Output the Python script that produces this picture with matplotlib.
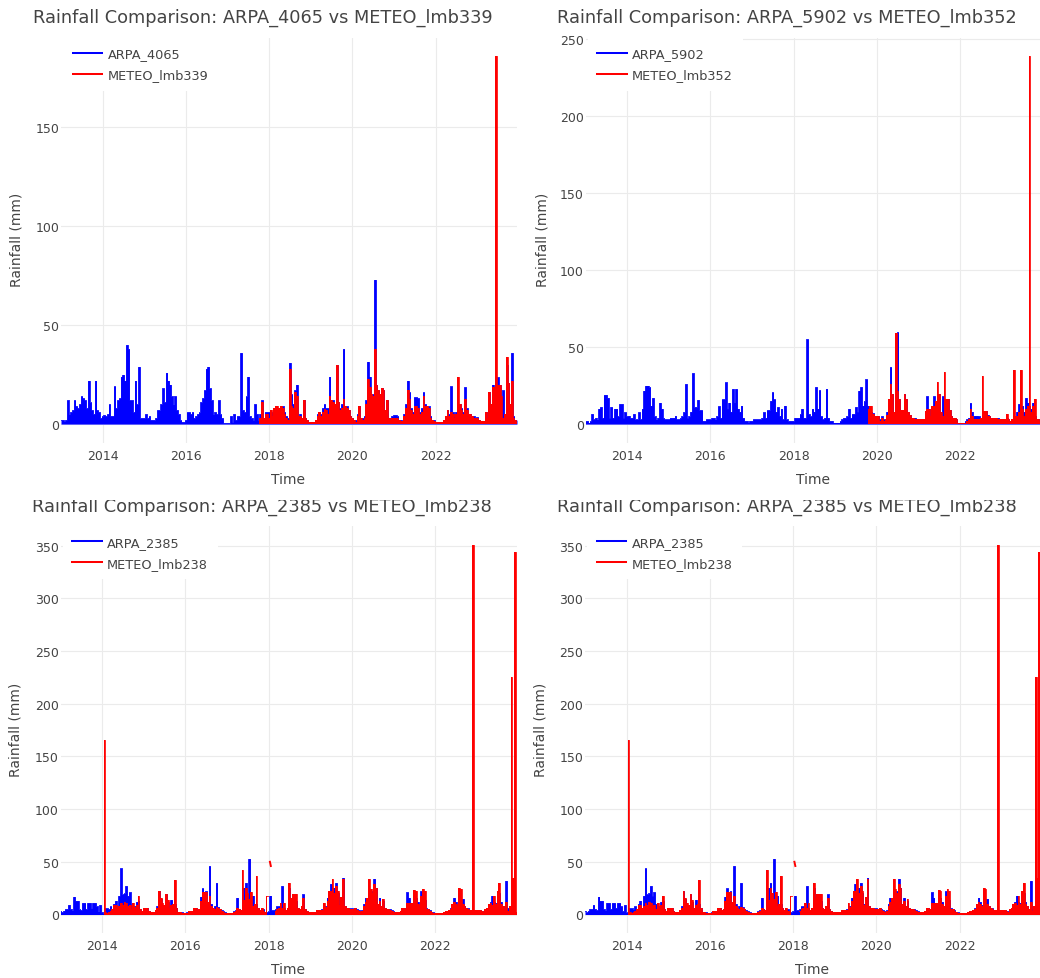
import numpy as np
import pandas as pd
import matplotlib
matplotlib.use("Agg")
import matplotlib.pyplot as plt
import matplotlib.dates as mdates
from matplotlib.ticker import MultipleLocator
from matplotlib.patches import Rectangle

nan = np.nan

# semi-monthly peak rainfall [mm]; ARPA stations start 2013-01-01
ARPA_START = "2013-01-01"

arpa_4065 = [
    2, 2, 1.5, 2, 12, 5, 6, 7, 12, 9, 8, 10, 14, 13, 12, 8, 22, 11, 7, 5, 22, 7, 6, 3,
    4, 4.5, 4, 5, 10, 4, 4, 19, 8, 12, 13, 24, 25, 22, 40, 38, 12, 12, 6, 22, 10, 29, 3, 3,
    3, 5, 3, 4, 2, 2, 2, 3, 7, 7, 10, 18, 11, 26, 22, 20, 14, 10, 14, 7, 5, 2, 1, 1,
    2, 6, 6, 5, 6, 3, 4, 5, 6, 11, 13, 17, 28, 29, 18, 12, 5, 6, 5, 12, 5, 3, 0.5, 0.5,
    0.5, 0.5, 4, 1, 5, 2, 4, 4, 36, 7, 6, 14, 24, 4, 3, 2, 10, 5, 2, 5, 12, 2, 6, 6,
    6, 1, 6, 6, 9, 5, 8, 9, 9, 6, 4, 3, 31, 15, 10, 17, 20, 4, 5, 3, 12, 3, 2, 1,
    1, 1, 1, 2, 5, 6, 5, 8, 10, 8, 8, 24, 12, 12, 10, 30, 11, 8, 10, 38, 9, 9, 7, 4,
    3, 2, 2, 5, 9, 3, 3, 4, 12, 31.6, 24, 15, 15, 73, 20, 17, 15, 18, 17, 7, 12, 3, 2, 4,
    4.5, 4.5, 4, 2, 2, 1.7, 5, 10, 22, 16, 8, 6, 13.5, 13.5, 13, 6, 8, 16, 10, 9, 9, 4, 2, 2,
    1, 1, 1, 1, 1, 2, 4, 7, 5, 19, 6, 4, 6, 8, 10, 8, 6, 18.6, 8, 5, 5, 4, 4, 3,
    3.4, 2, 1.7, 1.7, 1.7, 6, 3, 16, 10, 20, 18.6, 20, 23.6, 20, 14, 17, 5, 30, 21, 10, 36, 4, 2, 2,
]

meteo_lmb339_start = "2017-10-01"
meteo_lmb339 = [
    1, 3, 11, 3, 5, 5,
    3, 7, 4, 8, 9, 9, 8, 9, 8, 5, 3, 2, 28, 9, 8, 16, 14, 4, 4, 3, 12, 3, 2, 1,
    1, 1, 1, 2, 4, 6, 4, 6, 7.6, 7, 5, 14, 12, 11, 10, 30, 11, 7, 8, 12.7, 9, 8, 7, 4,
    3, 2, 1, 4, 9, 3, 2, 3, 10, 23, 18.6, 15, 14, 38, 20, 17, 15, 18, 17, 7, 12, 3, 2, 3,
    3, 3, 3, 2, 1.7, 1.5, 4, 8, 17, 12.7, 7, 5, 9, 9, 8, 5, 6, 14, 9, 9, 8, 3, 2, 1.5,
    1, 1, 1, 1, 1, 2, 4, 7, 4, 6, 5, 3, 5, 24, 10, 7, 5, 12.7, 7, 5, 5, 4, 3, 3,
    3, 2, 1.5, 1.5, 1.5, 6, 3, 16, 10, 18.6, 18.6, 186, 20, 20, 14, 3, 5, 34, 21, 10, 22, 3, 2, 1,
]

arpa_5902 = [
    2, 2, 1, 2, 6.5, 3, 4, 3, 10, 11, 4, 19, 19, 17, 4, 11, 4, 10, 10, 5, 13, 13, 4, 7.6,
    5, 5.4, 4, 4, 6.5, 3, 3, 7.6, 3, 10, 21.7, 25, 25, 24, 12, 17, 5, 3, 4, 14, 10, 4, 3, 3,
    3, 4, 4, 4, 5.4, 3, 3, 4, 5, 7.6, 26, 4, 5, 8, 33, 11, 11, 15.7, 9, 9, 2, 2, 3, 3,
    3, 4, 4, 3, 5, 11.5, 4, 16, 16, 27, 10, 14, 8, 22.8, 14, 22.8, 10, 8, 12, 4, 2, 2, 1, 2,
    2, 3, 3, 3, 3, 3, 4, 7.6, 4, 9, 9, 15, 20.6, 16, 8, 11, 5.4, 10, 3, 12, 3, 2, 2, 2,
    2, 4, 4, 4, 6.5, 10, 4, 4, 55, 6.5, 5, 10, 8, 24, 10, 22, 5, 3, 4, 23, 4, 2, 2, 1,
    1, 1, 1, 2, 3, 4, 4, 5, 10, 4, 6.5, 6.5, 11, 8, 21.7, 24, 12, 15, 29, 12, 11.5, 8, 7, 5,
    5, 5, 3, 5, 3, 3, 8, 16, 37, 19.5, 8, 14, 59.6, 16, 9, 9, 19.5, 16, 8, 6, 4, 4, 4, 3,
    3, 3, 3, 3, 8.7, 18, 10, 5, 12, 18, 15, 12, 19.5, 8, 18, 12, 16, 16, 9, 5, 4, 4, 3, 1,
    1, 1, 1, 2, 3, 4, 13.7, 8, 5.4, 5.4, 5.4, 5, 4, 6, 5, 8.7, 6, 5, 4, 4, 4, 4, 4, 3,
    3, 3, 3, 4, 3, 2, 3, 5, 5, 8, 13, 8, 12, 8, 17, 14, 12, 10, 14, 5, 3, 3, 2, 2,
]

meteo_lmb352_start = "2019-10-15"
meteo_lmb352 = [
    10, 12, 11.5, 6.5, 5.4,
    5, 5, 2, 4, 2, 3, 6, 16, 26, 19.5, 8, 59, 21.7, 16, 9, 9, 19.5, 16, 8, 6, 4, 4, 3, 3,
    3, 3, 3, 3, 8.7, 10, 10, 5, 12, 12, 15, 27, 19.5, 8, 5, 33.6, 16, 16, 9, 5, 4, 4, 3, 1,
    1, 1, 1, 1, 2, 3, 10, 5, 3, 3, 3, 3, 4, 31, 8.7, 8.7, 5, 5, 4, 4, 4, 4, 3, 3,
    3, 3, 3, 6.5, 3, 2, 3, 35, 5, 5, 8, 35, 10, 5, 10, 12, 239, 8, 12, 16, 3, 3, 2, 2,
]

arpa_2385 = [
    3.5, 2, 3.5, 5, 5, 9, 5, 4, 17, 13, 13, 5, 4, 11, 11, 5, 11, 11, 6, 11, 11, 7.6, 3, 9,
    2, 1, 5.7, 5.7, 5, 7.6, 4, 10, 13, 6, 17.7, 43.7, 19, 20, 27, 17.7, 21, 10, 6, 8, 12, 13, 5, 3,
    6, 6.6, 6.6, 3, 2, 2, 2, 4, 8, 22, 15, 9, 8, 19, 12, 6, 14, 8, 10, 6.6, 2, 2, 2, 1,
    1, 2, 3.5, 3.5, 3.5, 6.6, 6.6, 4, 5, 17, 24.7, 21, 22, 12, 46, 10, 6, 8, 30, 7, 5, 4, 3, 2,
    1.3, 1.3, 1.3, 1.3, 3, 4, 16, 5, 4, 10, 25.6, 30, 20, 53, 12, 18, 8, 10, 6, 4, 3, 5, 2, 2,
    3, 18, 4, 4, 5, 7.6, 7.6, 8, 27, 6, 4, 3, 25, 13, 14, 14, 13, 6, 5, 8, 19, 5, 3, 2,
    2, 2, 2, 2, 4.4, 4.4, 4.4, 5, 7, 8, 16, 20, 29, 22, 25.6, 30, 20, 10, 17, 35, 8, 6, 5.7, 5.7,
    5.7, 5, 6.6, 5, 4, 3, 4, 10, 16, 14, 15, 20, 22, 34, 25.6, 10, 16, 8, 13, 6, 5, 5, 5, 4,
    3, 2, 2, 2, 3, 6.6, 6.6, 5, 21, 16, 10, 11, 10, 16, 12, 8, 22, 16, 14, 6, 5, 4, 2, 2,
    1.3, 1.3, 1.3, 1.3, 1.3, 2, 3.5, 3.5, 4, 6, 8, 16, 12, 9, 11, 13, 15, 8, 6, 5.7, 4.4, 4, 3, 3,
    4.4, 4.4, 4.4, 3.5, 3, 5, 5, 7, 12, 18, 12, 11, 14, 20, 12, 8, 5, 32, 6, 3, 32, 4, 2, 2,
]

# nan = missing readings in the gauge record
meteo_lmb238_start = "2014-01-15"
meteo_lmb238 = [
    166, 2, 1, 2, 3, 5, 9, 9, 6.6, 8, 11, 9, 12, 11, 8, 9, 5, 11, 7, 9, 17.7, 5, 3,
    6, 6.6, 6, 3, 2, 2, 2, 4, 6.6, 22, 16, 11, 9, 19, 14, 6, 9, 10, 32.6, 6.6, 2, 2, 1.5, 1,
    1, 1.5, 3, 3, 3, 6.6, 6, 4, 5, 13, 21, 21, 21, 12, 17.7, 8, 6, 5, 7, 6, 5, 3, 2, 1.5,
    1.3, 1.3, 1.3, 1.3, 2, 3, 6, 5, 4, 42.4, 14, 25.6, 20, 15, 21, 8, 10, 36.7, 6, 4, 6.6, 3, 2, 18,
    nan, nan, nan, nan, 3, 5, 6, 11, 6, 11, 4, 6, 30, 16, 19, 19, 19, 6, 5, 8, 16, 5, 3, 2,
    2, 2, 2, 2, 4, 4, 4, 4, 11, 7, 13, 22, 22, 34, 20, 27, 22, 9, 17, 33.5, 8, 5.7, 5.7, 5,
    5, 5, 6.6, 4, 3, 2, 3, 8, 12, 16, 34, 24, 20, 29, 25.6, 10, 13, 8, 14.5, 6, 5, 5, 4, 3,
    2, 2, 2, 2, 3, 6.6, 6.6, 5, 11, 11, 11, 11, 23.4, 22.5, 10, 8, 17.7, 24, 22.5, 5, 5, 3, 2, 1.5,
    1.3, 1.3, 1.3, 1.3, 1.3, 2, 3, 3.5, 4, 5, 10, 12, 10, 8, 25.6, 24, 10, 8, 5.7, 5, 4, 4, 351, 4,
    4, 4.4, 4, 3.5, 2, 5, 6, 10, 11, 9, 17.7, 10, 22.5, 30, 10, 8, 5, 12, 3, 8, 225, 35, 344, 2,
]
# two readings logged alone inside the early-2018 gap
meteo_lmb238_isolated_dates = ["2018-01-12", "2018-01-20"]
meteo_lmb238_isolated = [50, 46]

W, H = 1040, 979
text_color = "#444444"
grid_kwargs = {"color": "#ebebeb", "lw": 0.8}
arpa_color = "#0000ff"
meteo_color = "#ff0000"


def px_rect(left, top, right, bottom):
    """Pixel box (top-left origin) -> figure fraction rect."""
    return [left / W, 1 - bottom / H, (right - left) / W, (bottom - top) / H]


def draw_series(ax, dates, vals, color, label, z):
    """Rainfall as a filled skyline, one step per half month."""
    vals = np.asarray(vals, dtype=float)
    ax.fill_between(dates, 0, vals, step="mid", color=color, lw=0, zorder=z)
    ax.plot(dates, vals, drawstyle="steps-mid", color=color, lw=0.6,
            label=label, zorder=z)


def plot_panel(fig, box, title_xy, ylab_xy, xlab_xy,
               arpa_name, arpa_vals, meteo_name, meteo_vals, meteo_start,
               extra=None):
    """One station pair: ARPA gauge vs METEO gauge."""
    ax = fig.add_axes(px_rect(*box))

    arpa_dates = pd.date_range(ARPA_START, periods=len(arpa_vals), freq="SMS")
    meteo_dates = pd.date_range(meteo_start, periods=len(meteo_vals), freq="SMS")
    draw_series(ax, arpa_dates, arpa_vals, arpa_color, arpa_name, 2)
    draw_series(ax, meteo_dates, meteo_vals, meteo_color, meteo_name, 3)
    if extra is not None:
        ax.plot(pd.to_datetime(extra[0]), extra[1], color=meteo_color, lw=1.4, zorder=3)

    ax.margins(x=0, y=0.05)
    ax.yaxis.set_major_locator(MultipleLocator(50))
    ax.xaxis.set_major_locator(mdates.YearLocator(2))
    ax.xaxis.set_major_formatter(mdates.DateFormatter("%Y"))
    ax.grid(True, **grid_kwargs)
    ax.set_axisbelow(True)
    for s in ax.spines.values():
        s.set_visible(False)
    ax.tick_params(axis="both", length=0, labelsize=9, labelcolor=text_color)
    ax.tick_params(axis="x", pad=4.5)
    ax.tick_params(axis="y", pad=1.2)

    leg = ax.legend(loc="upper left", bbox_to_anchor=(2 / 456, 1.0),
                    fontsize=9.3, frameon=True, fancybox=False, framealpha=1,
                    facecolor="white", edgecolor="none", borderaxespad=0,
                    borderpad=0.75, handlelength=2.3, handletextpad=0.4,
                    labelspacing=0.62)
    leg.set_zorder(5)
    for t in leg.get_texts():
        t.set_color(text_color)
    for h in leg.get_lines():
        h.set_linewidth(1.45)

    title = f"Rainfall Comparison: {arpa_name} vs {meteo_name}"
    fig.text(title_xy[0] / W, 1 - title_xy[1] / H, title, ha="center", va="baseline",
             fontsize=12.75, color=text_color)
    fig.text(ylab_xy[0] / W, 1 - ylab_xy[1] / H, "Rainfall (mm)", rotation=90,
             ha="center", va="center", fontsize=10, color=text_color)
    fig.text(xlab_xy[0] / W, 1 - xlab_xy[1] / H, "Time",
             ha="center", va="center", fontsize=10, color=text_color)
    return ax


fig = plt.figure(figsize=(W / 100, H / 100), dpi=100)

plot_panel(fig, (61, 38.5, 517, 443.5), (262.5, 23), (17, 240), (288, 480),
           "ARPA_4065", arpa_4065, "METEO_lmb339", meteo_lmb339, meteo_lmb339_start)
plot_panel(fig, (585.5, 38.5, 1041.5, 443.5), (786.7, 23), (542, 240), (812.7, 480),
           "ARPA_5902", arpa_5902, "METEO_lmb352", meteo_lmb352, meteo_lmb352_start)
for box, title_xy, ylab_xy, xlab_xy in [
        ((60.5, 527, 516.5, 934), (262.3, 512), (16, 730), (288.3, 970)),
        ((585, 527, 1041, 934), (786.7, 512), (540, 730), (812.3, 970))]:
    plot_panel(fig, box, title_xy, ylab_xy, xlab_xy,
               "ARPA_2385", arpa_2385, "METEO_lmb238", meteo_lmb238, meteo_lmb238_start,
               extra=(meteo_lmb238_isolated_dates, meteo_lmb238_isolated))

# lower screenshots are cropped just through the title line
fig.add_artist(Rectangle((0, 1 - 500.5 / H), 1, 11 / H, transform=fig.transFigure,
                         facecolor="white", edgecolor="none", zorder=10))

fig.savefig("out.png", dpi=100)
